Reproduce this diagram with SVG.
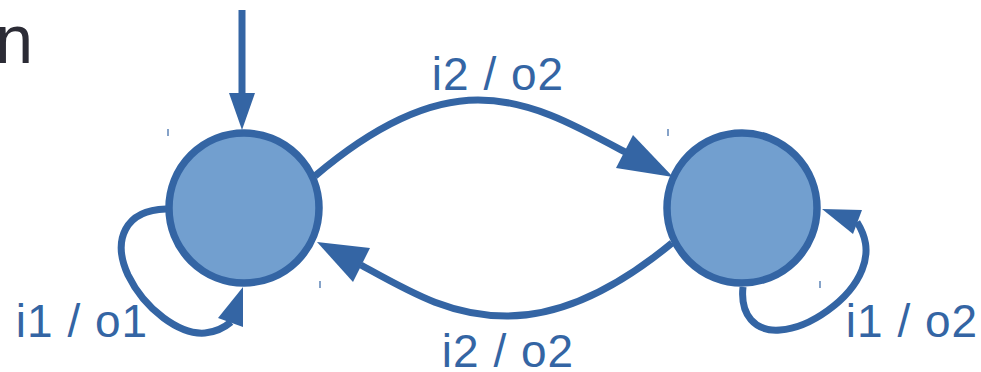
<svg xmlns="http://www.w3.org/2000/svg" width="981" height="372" viewBox="0 0 981 372">
<style>
.state{fill:#729fcf;stroke:#3465a4;stroke-width:7.5}
.edge{fill:none;stroke:#3465a4;stroke-width:7}
.head{fill:#3465a4;stroke:none}
.tick{stroke:#3465a4;stroke-width:1.2}
.lbl{font-family:"Liberation Sans",Arial,sans-serif;font-size:46px;letter-spacing:1px;fill:#3465a4;text-anchor:middle}
</style>
<rect width="981" height="372" fill="#ffffff"/>
<text x="33" y="63" font-family="'Liberation Sans',Arial,sans-serif" font-size="68" fill="#2b2b35" text-anchor="end">n</text>
<g id="s0">
<circle class="state" cx="244" cy="208" r="75"/>
<line class="tick" x1="168" y1="129" x2="168" y2="136"/>
<line class="tick" x1="320" y1="281" x2="320" y2="288"/>
</g>
<g id="s1">
<circle class="state" cx="742" cy="208" r="75"/>
<line class="tick" x1="668" y1="129" x2="668" y2="136"/>
<line class="tick" x1="820" y1="281" x2="820" y2="288"/>
</g>
<g id="connectors">
<line class="edge" x1="242" y1="10" x2="242" y2="96"/>
<polygon class="head" points="242,130 229,93 255,93"/>
<path class="edge" d="M315,176 C375,125 430,100 478,100 C530,100 575,125 625,152"/>
<polygon class="head" points="673,177 633,135 616,168"/>
<path class="edge" d="M672,243 C615,290 560,316 507,316 C450,316 410,292 361,265"/>
<polygon class="head" points="317,242 370,248 353,282"/>
<path class="edge" d="M166,209 C125,210 112,240 128,275 C145,310 180,335 205,333 C215,332 224,328 231,322"/>
<polygon class="head" points="243,287 218,318 243,327"/>
<path class="edge" d="M743,287 C740,315 755,332 780,330 C810,328 850,300 862,270 C870,250 865,235 857,222"/>
<polygon class="head" points="822,209 862,210 853,234"/>
</g>
<g id="labels">
<text class="lbl" x="498" y="90">i2 / o2</text>
<text class="lbl" x="508" y="367">i2 / o2</text>
<text class="lbl" x="82" y="337">i1 / o1</text>
<text class="lbl" x="912" y="337">i1 / o2</text>
</g>
</svg>
